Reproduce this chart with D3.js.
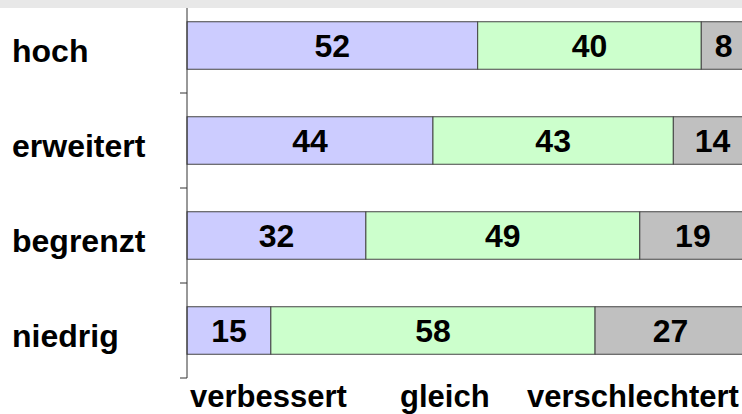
<!DOCTYPE html>
<html>
<head>
<meta charset="utf-8">
<script src="https://cdn.jsdelivr.net/npm/d3@7"></script>
<style>
  html, body { margin: 0; padding: 0; background: #fff; }
  svg { display: block; font-family: "Liberation Sans", Arial, sans-serif; }
</style>
</head>
<body>
<div id="chart"></div>
<script>
// data
const categories = ['hoch', 'erweitert', 'begrenzt', 'niedrig'];
const seriesNames = ['verbessert', 'gleich', 'verschlechtert'];
const verbessert = [52, 44, 32, 15];
const gleich = [40, 43, 49, 58];
const verschlechtert = [8, 14, 19, 27];
const seriesColors = ['#ccccff', '#ccffcc', '#c0c0c0'];
const legendX = [190, 400, 527];

const width = 742, height = 414;

const svg = d3.select('#chart').append('svg')
    .attr('width', width)
    .attr('height', height);

const rows = categories.map((c, i) => ({
    cat: c,
    vals: [verbessert[i], gleich[i], verschlechtert[i]]
}));

const xs = d3.scaleLinear().domain([0, 100]).range([187, 746]);
const ys = d3.scaleBand()
    .domain(categories)
    .range([-2, 378])
    .paddingInner(0.5)
    .paddingOuter(0.25);

// stacked segments
const stack = d3.stack().keys([0, 1, 2]).value((d, k) => d.vals[k]);
const layers = stack(rows);

const gBars = svg.append('g');
layers.forEach((layer, k) => {
    gBars.selectAll('.seg' + k)
        .data(layer)
        .enter()
        .append('rect')
        .attr('x', d => xs(d[0]))
        .attr('y', d => ys(d.data.cat))
        .attr('width', d => xs(d[1]) - xs(d[0]))
        .attr('height', ys.bandwidth())
        .style('fill', seriesColors[k])
        .style('stroke', '#444')
        .style('stroke-width', '1px');

    gBars.selectAll('.lbl' + k)
        .data(layer)
        .enter()
        .append('text')
        .attr('x', d => (xs(d[0]) + xs(d[1])) / 2)
        .attr('y', d => ys(d.data.cat) + ys.bandwidth() / 2)
        .attr('dy', '0.36em')
        .style('text-anchor', 'middle')
        .style('font-weight', 'bold')
        .style('font-size', '32px')
        .style('fill', '#000')
        .text(d => d[1] - d[0]);
});

// y axis line + ticks between categories
const step = ys.step();
const y0 = ys.range()[0];
const tickYs = d3.range(1, categories.length + 1).map(i => y0 + i * step);

svg.append('line')
    .attr('x1', xs(0)).attr('x2', xs(0))
    .attr('y1', 0).attr('y2', tickYs[tickYs.length - 1])
    .style('stroke', '#333')
    .style('stroke-width', '1px');

svg.selectAll('.tick')
    .data(tickYs)
    .enter()
    .append('line')
    .attr('x1', xs(0) - 7).attr('x2', xs(0))
    .attr('y1', d => d).attr('y2', d => d)
    .style('stroke', '#333')
    .style('stroke-width', '1px');

// category labels
svg.selectAll('.cat')
    .data(categories)
    .enter()
    .append('text')
    .attr('x', 12)
    .attr('y', d => ys(d) + ys.bandwidth() / 2 + 5)
    .attr('dy', '0.36em')
    .style('font-weight', 'bold')
    .style('font-size', '32px')
    .style('fill', '#000')
    .text(d => d);

// series names along the bottom
svg.selectAll('.legend')
    .data(seriesNames)
    .enter()
    .append('text')
    .attr('x', (d, i) => legendX[i])
    .attr('y', 407)
    .style('font-weight', 'bold')
    .style('font-size', '31px')
    .style('fill', '#000')
    .text(d => d);

// top grey strip
svg.append('rect')
    .attr('x', 0).attr('y', 0)
    .attr('width', width).attr('height', 8)
    .style('fill', '#e8e8e8');
</script>
</body>
</html>
